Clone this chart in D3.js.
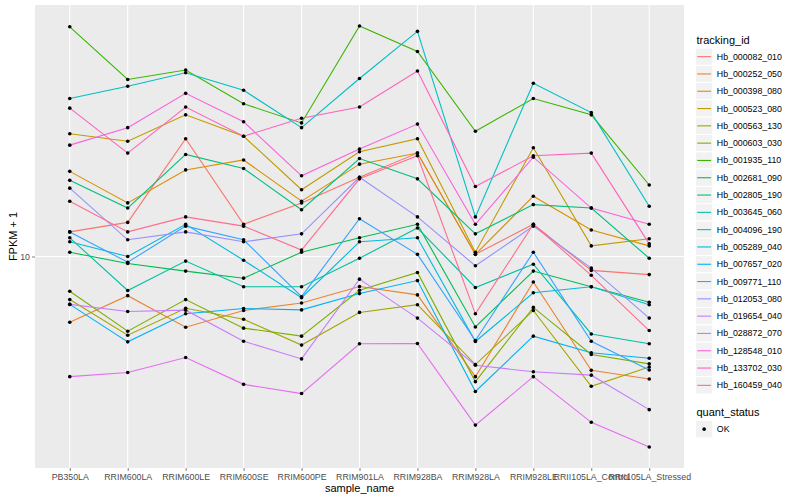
<!DOCTYPE html>
<html>
<head>
<meta charset="utf-8">
<script src="https://cdn.jsdelivr.net/npm/d3@7"></script>
<style>
  body { margin: 0; background: #fff; }
  text { font-family: "Liberation Sans", Arial, sans-serif; }
</style>
</head>
<body>
<script>
// samples on the x axis
var samples = ["PB350LA", "RRIM600LA", "RRIM600LE", "RRIM600SE", "RRIM600PE", "RRIM901LA",
    "RRIM928BA", "RRIM928LA", "RRIM928LE", "RRII105LA_Control", "RRII105LA_Stressed"];

var trackingIds = ["Hb_000082_010", "Hb_000252_050", "Hb_000398_080", "Hb_000523_080",
    "Hb_000563_130", "Hb_000603_030", "Hb_001935_110", "Hb_002681_090", "Hb_002805_190",
    "Hb_003645_060", "Hb_004096_190", "Hb_005289_040", "Hb_007657_020", "Hb_009771_110",
    "Hb_012053_080", "Hb_019654_040", "Hb_028872_070", "Hb_128548_010", "Hb_133702_030",
    "Hb_160459_040"];

// ggplot hue palette, 20 levels
var colors = ["#F8766D", "#EA8331", "#D89000", "#C09B00", "#A3A500", "#7CAE00", "#39B600",
    "#00BB4E", "#00BF7D", "#00C1A3", "#00BFC4", "#00BAE0", "#00B0F6", "#35A2FF", "#9590FF",
    "#C77CFF", "#E76BF3", "#FA62DB", "#FF62BC", "#FF6C91"];

// FPKM + 1 per sample
var hb_000082_010 = [11.2, 11.7, 17.2, 11.6, 12.8, 14.4, 16.1, 10.1, 11.6, 9.38, 9.20];
var hb_000252_050 = [7.39, 8.35, 7.22, 7.80, 8.07, 8.71, 8.38, 5.75, 8.89, 5.92, 5.69];
var hb_000398_080 = [14.8, 12.8, 14.9, 15.6, 12.9, 15.3, 16.1, 10.1, 13.2, 11.3, 10.5];
var hb_000523_080 = [17.6, 17.0, 19.2, 17.4, 13.6, 16.2, 17.2, 10.2, 16.5, 10.5, 10.85];
var hb_000563_130 = [8.20, 6.96, 7.88, 7.49, 6.65, 7.73, 8.01, 6.08, 7.80, 5.50, 6.01];
var hb_000603_030 = [8.52, 7.09, 8.20, 7.19, 6.93, 8.56, 9.29, 5.62, 7.91, 6.37, 6.10];
var hb_001935_110 = [28.8, 22.6, 23.6, 20.2, 18.5, 28.9, 25.7, 17.8, 20.7, 19.2, 13.9];
var hb_002681_090 = [10.2, 9.68, 9.35, 9.05, 10.2, 10.9, 11.6, 7.23, 9.35, 8.70, 8.10];
var hb_002805_190 = [14.2, 12.5, 16.0, 15.0, 12.4, 15.7, 14.3, 11.1, 12.7, 12.5, 9.92];
var hb_003645_060 = [10.9, 8.55, 9.79, 8.70, 8.70, 9.92, 11.4, 8.67, 9.65, 7.00, 6.69];
var hb_004096_190 = [20.7, 21.9, 23.3, 21.5, 18.1, 22.7, 28.2, 12.0, 22.2, 19.4, 12.6];
var hb_005289_040 = [10.7, 10.0, 11.6, 9.83, 8.27, 10.7, 10.9, 6.76, 8.46, 8.70, 8.01];
var hb_007657_020 = [8.02, 6.75, 7.68, 7.87, 7.82, 8.43, 8.95, 5.37, 6.93, 6.42, 6.26];
var hb_009771_110 = [11.2, 9.74, 11.5, 10.8, 8.31, 11.9, 10.1, 6.79, 10.2, 6.77, 5.93];
var hb_012053_080 = [13.7, 10.8, 11.2, 10.7, 11.1, 14.4, 12.0, 9.58, 11.5, 9.48, 7.53];
var hb_019654_040 = [8.02, 7.76, 7.81, 6.77, 6.24, 9.01, 7.53, 6.06, 5.88, 5.79, 4.94];
var hb_028872_070 = [5.75, 5.86, 6.28, 5.55, 5.32, 6.69, 6.70, 4.60, 5.75, 4.66, 4.16];
var hb_128548_010 = [16.7, 18.1, 21.2, 18.6, 14.5, 16.4, 18.4, 11.6, 15.8, 12.5, 11.6];
var hb_133702_030 = [19.8, 16.1, 19.9, 17.4, 18.9, 19.9, 23.5, 13.8, 15.9, 16.1, 10.6];
var hb_160459_040 = [12.9, 11.2, 12.0, 11.5, 10.3, 14.3, 15.9, 7.68, 11.6, 9.17, 7.11];

var values = [hb_000082_010, hb_000252_050, hb_000398_080, hb_000523_080, hb_000563_130,
    hb_000603_030, hb_001935_110, hb_002681_090, hb_002805_190, hb_003645_060, hb_004096_190,
    hb_005289_040, hb_007657_020, hb_009771_110, hb_012053_080, hb_019654_040, hb_028872_070,
    hb_128548_010, hb_133702_030, hb_160459_040];

var yTicks = [10];

var series = trackingIds.map((id, i) => ({
    id: id,
    color: colors[i],
    points: values[i].map((v, j) => ({sample: samples[j], y: v}))
}));

var W = 800, H = 500;
var panel = {left: 35, right: 684, top: 5, bottom: 468};

var svg = d3.select("body").append("svg")
    .attr("width", W)
    .attr("height", H);

// scales (log y, expanded 5% like ggplot)
var x = d3.scalePoint()
    .domain(samples)
    .range([panel.left, panel.right])
    .padding(0.6);

var all = d3.merge(values);
var lo = Math.log10(d3.min(all)), hi = Math.log10(d3.max(all));
var pad = (hi - lo) * 0.05;
var y = d3.scaleLog()
    .domain([Math.pow(10, lo - pad), Math.pow(10, hi + pad)])
    .range([panel.bottom, panel.top]);

// panel background
svg.append("rect")
    .attr("x", panel.left)
    .attr("y", panel.top)
    .attr("width", panel.right - panel.left)
    .attr("height", panel.bottom - panel.top)
    .attr("fill", "#EBEBEB");

// grid
svg.append("g").selectAll("line")
    .data(samples)
    .enter().append("line")
    .attr("x1", d => x(d)).attr("x2", d => x(d))
    .attr("y1", panel.top).attr("y2", panel.bottom)
    .attr("stroke", "#fff").attr("stroke-width", 1.1);

svg.append("g").selectAll("line")
    .data(yTicks)
    .enter().append("line")
    .attr("x1", panel.left).attr("x2", panel.right)
    .attr("y1", d => y(d)).attr("y2", d => y(d))
    .attr("stroke", "#fff").attr("stroke-width", 1.1);

// lines
var line = d3.line()
    .x(d => x(d.sample))
    .y(d => y(d.y));

svg.append("g").selectAll("path")
    .data(series)
    .enter().append("path")
    .attr("d", d => line(d.points))
    .attr("fill", "none")
    .attr("stroke", d => d.color)
    .attr("stroke-width", 1.1);

// points
svg.append("g").selectAll("g")
    .data(series)
    .enter().append("g")
    .selectAll("circle")
    .data(d => d.points)
    .enter().append("circle")
    .attr("cx", d => x(d.sample))
    .attr("cy", d => y(d.y))
    .attr("r", 1.8)
    .attr("fill", "#000");

// x axis
var xAxis = d3.axisBottom(x).tickSize(3).tickPadding(3);
var gx = svg.append("g")
    .attr("transform", `translate(0,${panel.bottom})`)
    .call(xAxis);
gx.select(".domain").remove();
gx.selectAll(".tick line").attr("stroke", "#7F7F7F");
gx.selectAll(".tick text")
    .attr("fill", "#4D4D4D")
    .style("font-size", "8.8px")
    .style("font-family", "'Liberation Sans', Arial, sans-serif");

// y axis
var yAxis = d3.axisLeft(y).tickValues(yTicks).tickFormat(d3.format("d")).tickSize(3).tickPadding(2);
var gy = svg.append("g")
    .attr("transform", `translate(${panel.left},0)`)
    .call(yAxis);
gy.select(".domain").remove();
gy.selectAll(".tick line").attr("stroke", "#7F7F7F");
gy.selectAll(".tick text")
    .attr("fill", "#4D4D4D")
    .style("font-size", "8.8px")
    .style("font-family", "'Liberation Sans', Arial, sans-serif");

// axis titles
svg.append("text")
    .attr("x", (panel.left + panel.right) / 2)
    .attr("y", 492)
    .attr("text-anchor", "middle")
    .style("font-size", "11px")
    .text("sample_name");

svg.append("text")
    .attr("transform", `translate(17,${(panel.top + panel.bottom) / 2}) rotate(-90)`)
    .attr("text-anchor", "middle")
    .style("font-size", "11px")
    .text("FPKM + 1");

// legend: tracking_id
var legX = 695.5, keySize = 17.3, firstRow = 48;
svg.append("text")
    .attr("x", legX + 1)
    .attr("y", 44)
    .style("font-size", "11px")
    .text("tracking_id");

var keys = svg.append("g").selectAll("g")
    .data(series)
    .enter().append("g")
    .attr("transform", (d, i) => `translate(${legX},${firstRow + i * keySize})`);

keys.append("rect")
    .attr("width", keySize).attr("height", keySize)
    .attr("fill", "#F2F2F2")
    .attr("stroke", "#fff");

keys.append("line")
    .attr("x1", 1.7).attr("x2", keySize - 1.7)
    .attr("y1", keySize / 2).attr("y2", keySize / 2)
    .attr("stroke", d => d.color)
    .attr("stroke-width", 1.1);

keys.append("text")
    .attr("x", keySize + 4)
    .attr("y", keySize / 2 + 3)
    .style("font-size", "8.8px")
    .text(d => d.id);

// legend: quant_status
svg.append("text")
    .attr("x", legX + 1)
    .attr("y", 416)
    .style("font-size", "11px")
    .text("quant_status");

var ok = svg.append("g")
    .attr("transform", `translate(${legX},420.5)`);
ok.append("rect")
    .attr("width", keySize).attr("height", keySize)
    .attr("fill", "#F2F2F2")
    .attr("stroke", "#fff");
ok.append("circle")
    .attr("cx", keySize / 2).attr("cy", keySize / 2)
    .attr("r", 1.8)
    .attr("fill", "#000");
ok.append("text")
    .attr("x", keySize + 4)
    .attr("y", keySize / 2 + 3)
    .style("font-size", "8.8px")
    .text("OK");
</script>
</body>
</html>
